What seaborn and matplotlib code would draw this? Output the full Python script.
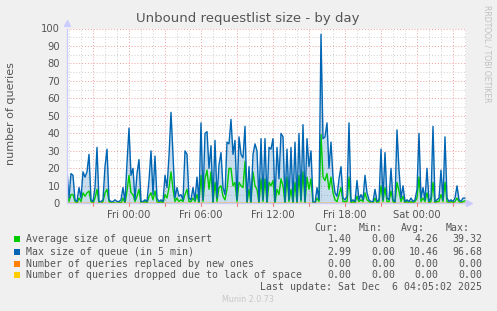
import numpy as np
import pandas as pd
import matplotlib
matplotlib.use("Agg")
import matplotlib.pyplot as plt
from matplotlib.patches import Rectangle
import seaborn as sns

# ---------------- data (10-minute samples, hours relative to Fri 00:00) ----------------
max_queue = [19, 3, 17, 16, 2, 1, 9, 3, 18, 15, 18, 28, 2, 1, 9, 32, 1, 1, 2, 21,
             31, 2, 1, 1, 2, 1, 1, 2, 9, 1, 23, 43, 16, 20, 2, 17, 25, 1, 1, 2,
             1, 13, 30, 5, 27, 3, 1, 2, 1, 16, 9, 27, 52, 28, 3, 9, 4, 5, 2, 30,
             28, 3, 2, 9, 2, 15, 1, 46, 2, 40, 41, 20, 33, 1, 36, 3, 22, 29, 9, 5,
             35, 34, 48, 28, 36, 2, 38, 28, 26, 44, 1, 21, 1, 28, 34, 30, 1, 37, 2, 37,
             1, 32, 31, 37, 1, 32, 14, 40, 38, 1, 31, 2, 32, 1, 35, 1, 40, 2, 45, 1,
             37, 21, 30, 1, 0, 9, 2, 96.68, 37, 38, 46, 20, 35, 15, 6, 4, 14, 21, 3, 2,
             4, 46, 1, 2, 1, 13, 2, 5, 2, 16, 6, 2, 1, 1, 8, 1, 2, 31, 2, 29,
             3, 2, 20, 2, 1, 42, 19, 3, 10, 1, 2, 1, 3, 1, 2, 8, 40, 3, 9, 2,
             20, 1, 3, 44, 1, 2, 3, 19, 2, 38, 3, 1, 2, 1, 3, 10, 2, 1, 3, 2.99]
avg_queue = [8, 1, 5, 5, 1, 0, 3, 1, 6, 4, 6, 7, 1, 0, 3, 8, 0, 0, 1, 6,
             8, 1, 0, 1, 0, 0, 1, 0, 3, 0, 7, 16, 6, 5, 1, 4, 8, 0, 0, 1,
             0, 4, 6, 2, 7, 1, 0, 1, 0, 5, 3, 9, 18, 8, 1, 3, 1, 2, 1, 5,
             8, 1, 1, 3, 1, 5, 0, 16, 1, 14, 19, 8, 18, 0, 12, 1, 9, 10, 4, 2,
             8, 20, 20, 10, 12, 1, 12, 10, 9, 24, 0, 8, 0, 18, 10, 8, 0, 14, 1, 14,
             0, 12, 10, 13, 0, 8, 5, 14, 10, 0, 15, 1, 8, 0, 12, 0, 16, 1, 18, 0,
             15, 8, 14, 0, 0, 3, 1, 39.32, 15, 13, 17, 8, 15, 6, 2, 1, 5, 9, 1, 1,
             1, 15, 0, 1, 0, 4, 1, 2, 1, 6, 2, 1, 0, 0, 3, 0, 1, 10, 1, 9,
             1, 1, 7, 1, 0, 12, 7, 1, 4, 0, 1, 0, 1, 0, 1, 3, 15, 1, 3, 1,
             6, 0, 1, 12, 0, 1, 1, 5, 1, 12, 1, 0, 1, 0, 1, 3, 1, 0, 1, 1.40]
replaced = [0.0] * len(max_queue)
dropped = [0.0] * len(max_queue)

x_tick_hours = [0, 6, 12, 18, 24]
x_tick_labels = ["Fri 00:00", "Fri 06:00", "Fri 12:00", "Fri 18:00", "Sat 00:00"]

series_names = ["Average size of queue on insert", "Max size of queue (in 5 min)",
                "Number of queries replaced by new ones",
                "Number of queries dropped due to lack of space"]
series_colors = ["#00CC00", "#0066B3", "#FF8000", "#FFCC00"]
cur_vals = ["1.40", "2.99", "0.00", "0.00"]
min_vals = ["0.00", "0.00", "0.00", "0.00"]
avg_vals = ["4.26", "10.46", "0.00", "0.00"]
max_vals = ["39.32", "96.68", "0.00", "0.00"]

# time axis: sample i sits 2 px apart, Fri 00:00 at sample 31
hours = (np.arange(len(max_queue)) - 31) / 6.0

df = pd.DataFrame({
    "t": np.concatenate([hours] * 4),
    "value": np.concatenate([avg_queue, max_queue, replaced, dropped]),
    "series": np.repeat(series_names, len(max_queue)),
})

# ---------------- figure ----------------
W, H = 497, 311
sns.set_theme(style="white")
plt.rcParams["font.family"] = ["DejaVu Sans"]
fig = plt.figure(figsize=(W / 100, H / 100), dpi=100, facecolor="#F0F0F0")

L, R, T, B = 67, 466, 28.5, 203.3
ax = fig.add_axes([L / W, 1 - B / H, (R - L) / W, (B - T) / H])
ax.set_facecolor("white")

x0 = -31 / 6.0
x1 = (R - 129) / 12.0
ax.set_xlim(x0, x1)
ax.set_ylim(0, 100)

# grid
for h in np.arange(-5, 29, 1):
    if h % 3 != 0:
        ax.axvline(h, color="#CFCFCF", lw=0.7, ls=(0, (1, 2)), zorder=0)
for v in range(5, 100, 10):
    ax.axhline(v, color="#CFCFCF", lw=0.7, ls=(0, (1, 2)), zorder=0)
for h in np.arange(-3, 29, 3):
    ax.axvline(h, color="#F0A0A0", lw=0.7, ls=(0, (1, 2)), zorder=0.5)
for v in range(10, 101, 10):
    ax.axhline(v, color="#F0A0A0", lw=0.7, ls=(0, (1, 2)), zorder=0.5)

# light fill mimicking the anti-aliased density of the max line
ax.fill_between(hours, max_queue, 0, color="#0066B3", alpha=0.22, lw=0, zorder=1)

sns.lineplot(data=df, x="t", y="value", hue="series", hue_order=series_names,
             palette=series_colors, legend=False, linewidth=1.0, ax=ax, zorder=2)

for sp in ax.spines.values():
    sp.set_visible(False)

ax.set_yticks(range(0, 101, 10))
ax.set_yticklabels([str(v) for v in range(0, 101, 10)])
ax.set_xticks(x_tick_hours)
ax.set_xticklabels(x_tick_labels)
ax.tick_params(axis="both", which="both", length=0, colors="#555555", labelsize=7.2, pad=5)
ax.tick_params(axis="x", pad=5)
for h in np.arange(-3, 29, 3):
    ax.plot([h, h], [0, -1.6], color="#F08080", lw=0.8, clip_on=False, zorder=3)
ax.set_xlabel("")
ax.set_ylabel("")

# axis lines with arrows
ax.plot([x0, x0], [0, 100], color="#CCCCFF", lw=1.0, clip_on=False, zorder=3)
ax.plot([x0, x1 + 0.2], [0, 0], color="#CCCCFF", lw=1.0, clip_on=False, zorder=1.5)
ax.plot([x0], [103.2], marker="^", ms=5, color="#CCCCFF", clip_on=False, zorder=3)
ax.plot([x1 + 0.25], [0], marker=">", ms=5, color="#CCCCFF", clip_on=False, zorder=3)

def px(x, y):
    return x / W, 1 - y / H

fig.text(*px(11, 114), "number of queries", ha="center", va="center", rotation=90,
         fontsize=8, color="#555555")
fig.text(*px(248, 18.5), "Unbound requestlist size - by day", ha="center", va="center",
         fontsize=9.5, color="#555555")
fig.text(*px(487, 5), "RRDTOOL / TOBI OETIKER", ha="center", va="top", rotation=270,
         fontsize=5.5, color="#C0C0C0")

mono = "DejaVu Sans Mono"
fs = 7.1
for txt, xr in zip(["Cur:", "Min:", "Avg:", "Max:"], [338, 383, 425, 470]):
    fig.text(*px(xr, 227.7), txt, ha="right", va="center", family=mono, fontsize=fs, color="#555555")
rows_y = [239.3, 251.7, 263.7, 275.3]
for name, col, c, mn, a, mx, y in zip(series_names, series_colors, cur_vals, min_vals,
                                       avg_vals, max_vals, rows_y):
    fx, fy = px(14, y + 3)
    fig.patches.append(Rectangle((fx, fy), 6 / W, 6 / H, transform=fig.transFigure,
                                 facecolor=col, edgecolor="none"))
    fig.text(*px(26, y), name, ha="left", va="center", family=mono, fontsize=fs, color="#555555")
    for val, xr in zip([c, mn, a, mx], [351.7, 395.7, 438.3, 482.3]):
        fig.text(*px(xr, y), val, ha="right", va="center", family=mono, fontsize=fs, color="#555555")
fig.text(*px(482.3, 287.3), "Last update: Sat Dec  6 04:05:02 2025", ha="right", va="center",
         family=mono, fontsize=fs, color="#555555")
fig.text(*px(248, 300), "Munin 2.0.73", ha="center", va="center", fontsize=5.8, color="#C8C8C8")

fig.savefig("out.png", dpi=100, facecolor=fig.get_facecolor())
